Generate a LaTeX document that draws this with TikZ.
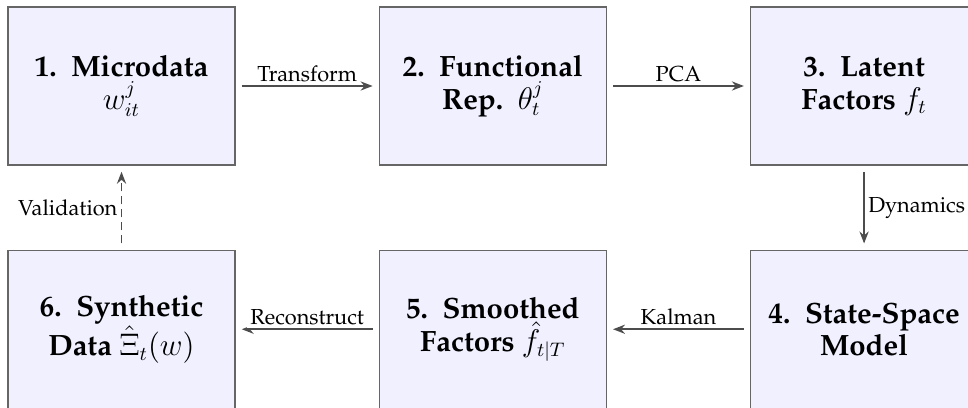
\documentclass[tikz,border=0pt]{standalone}
\usepackage[T1]{fontenc}
\usepackage{palatino}
\usepackage{amsmath}
\usetikzlibrary{positioning,arrows.meta}

\begin{document}
\begin{tikzpicture}[
    stage/.style={draw=black!60, line width=0.6pt, fill=blue!6,
      minimum width=104.4pt, minimum height=72.7pt, align=center,
      font=\fontsize{13.5}{15}\selectfont\bfseries},
    flow/.style={-{Stealth[length=5.5pt,width=4.2pt]}, draw=black!70,
      line width=0.85pt, shorten >=2.8pt, shorten <=2.8pt},
    tag/.style={font=\normalsize, fill=white, inner sep=1.5pt},
    node distance=38.6pt and 65.8pt
  ]
  % page frame of the reference
  \useasboundingbox (-55.9pt,-148.1pt) rectangle (389.4pt,39.56pt);
  % top row, left to right
  \node[stage] (micro) at (0,0) {1.~~Microdata\\ $w_{it}^{j}$};
  \node[stage, right=of micro] (func) {2.~~Functional\\ Rep.~~$\theta_t^{j}$};
  \node[stage, right=of func] (latent) {3.~~Latent\\ Factors~$f_t$};
  % bottom row, right to left
  \node[stage, below=of latent] (ssm) {4.~~State-Space\\ Model};
  \node[stage, left=of ssm] (smooth) {5.~~Smoothed\\ Factors~$\hat{f}_{t|T}$};
  \node[stage, left=of smooth] (synth) {6.~~Synthetic\\ Data $\hat{\Xi}_t(w)$};
  % connectors
  \draw[flow] (micro) -- node[tag, above] {Transform} (func);
  \draw[flow] (func) -- node[tag, above] {PCA} (latent);
  \draw[flow] (latent) -- node[tag, right] {Dynamics} (ssm);
  \draw[flow] (ssm) -- node[tag, above] {Kalman} (smooth);
  \draw[flow] (smooth) -- node[tag, above] {Reconstruct} (synth);
  \draw[flow, dash pattern=on 3.7pt off 2.3pt] (synth) -- node[tag, left] {Validation} (micro);
\end{tikzpicture}
\end{document}
